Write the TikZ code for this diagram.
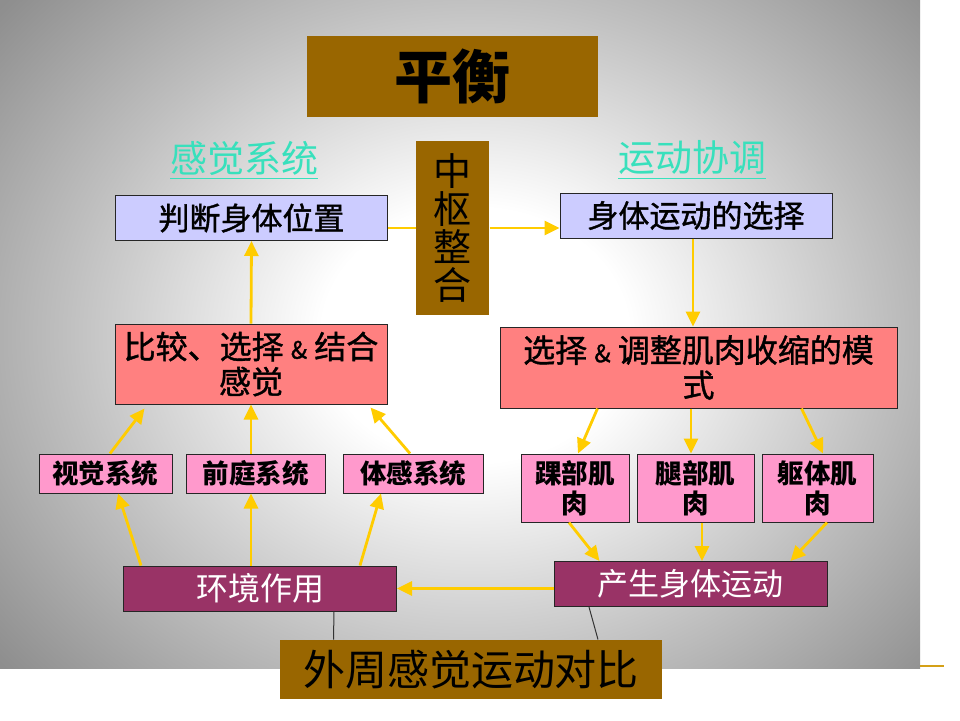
\documentclass[tikz,border=0pt]{standalone}
\usepackage{fontspec}
\setmainfont{Noto Sans CJK SC}
\newfontfamily\heavy[FakeBold=1.2]{Noto Sans CJK SC}
\usetikzlibrary{positioning,calc,arrows.meta,shapes}
\definecolor{ochre}{HTML}{996600}
\definecolor{lilac}{HTML}{CCCCFF}
\definecolor{salmon}{HTML}{FF8080}
\definecolor{rosa}{HTML}{FF99CC}
\definecolor{plum}{HTML}{993366}
\definecolor{amber}{HTML}{FFCC00}
\definecolor{aqua}{HTML}{38E0BC}
\definecolor{goldline}{HTML}{D4A017}
\pgfdeclareradialshading{glow}{\pgfpoint{0bp}{0bp}}{color(0bp)=(white); color(6bp)=(white); color(16bp)=(black!25); color(24bp)=(black!44); color(32bp)=(black!54); color(40bp)=(black!59); color(50bp)=(black!59)}

\begin{document}
\begin{tikzpicture}[x=0.5pt,y=-0.5pt,
    box/.style={rectangle,inner sep=0pt,align=center,draw=black!85,line width=0.5pt},
    gold box/.style={box,draw=none,fill=ochre},
    lilac box/.style={box,fill=lilac,minimum width=136pt,minimum height=22.5pt,font=\heavy\fontsize{15.5}{17}\selectfont},
    red box/.style={box,fill=salmon,minimum height=40pt,font=\heavy\fontsize{16}{17.5}\selectfont},
    pink box/.style={box,fill=rosa,font=\bfseries\fontsize{13.25}{15}\selectfont},
    plum box/.style={box,fill=plum,text=white,minimum width=136.5pt,minimum height=22.5pt,font=\fontsize{16}{17}\selectfont},
    title/.style={text=aqua,font=\fontsize{18.5}{19}\selectfont},
    flow/.style={color=amber,line width=1.4pt,-{Triangle[length=7.5pt,width=7pt]}},
    link/.style={color=black!80,line width=0.5pt}
  ]
  % background
  \fill[white] (0,0) rectangle (960,720);
  \begin{scope}
    \clip (0,0) rectangle (920,668);
    \fill[black!59] (0,0) rectangle (920,668);
    \shade[shading=glow] (475,335) ellipse (640 and 530);
  \end{scope}
  \draw[goldline,line width=1pt] (920,666) -- (944,666);

  \node[gold box,minimum width=145.5pt,minimum height=40.5pt,font=\bfseries\fontsize{29}{30}\selectfont] (bal) at (452.5,76.5) {平衡};
  \node[gold box,minimum width=36.5pt,minimum height=87pt,font=\fontsize{19}{19}\selectfont] (hub) at (452.5,228) {中\\枢\\整\\合};
  \node[title] (sense) at (244,160) {\underline{感觉系统}};
  \node[title] (motor) at (692,160) {\underline{运动协调}};
  \node[lilac box] (pos) at (251.5,218) {判断身体位置};
  \node[lilac box] (sel) at (696,215.5) {身体运动的选择};
  \node[red box,minimum width=136pt] (cmp) at (251,364) {比较、选择 {\fontsize{12}{12}\selectfont\&} 结合\\感觉};
  \node[red box,minimum width=198.5pt,minimum height=40.5pt] (mod) at (698.5,367.5) {选择 {\fontsize{12}{12}\selectfont\&} 调整肌肉收缩的模\\式};
  \node[pink box,minimum width=66.5pt,minimum height=19.5pt] (vis) at (105.5,473.5) {视觉系统};
  \node[pink box,minimum width=69.5pt,minimum height=19.5pt] (ves) at (255.5,473.5) {前庭系统};
  \node[pink box,minimum width=70pt,minimum height=19.5pt] (som) at (413,473.5) {体感系统};
  \node[pink box,minimum width=54pt,minimum height=34pt] (ank) at (575,488) {踝部肌\\肉};
  \node[pink box,minimum width=58.5pt,minimum height=34pt] (leg) at (695.5,488) {腿部肌\\肉};
  \node[pink box,minimum width=55.5pt,minimum height=34pt] (trk) at (817.5,488) {躯体肌\\肉};
  \node[plum box] (env) at (260,588.5) {环境作用};
  \node[plum box,font=\fontsize{15.5}{17}\selectfont] (mov) at (690.5,584) {产生身体运动};
  \node[gold box,minimum width=191pt,minimum height=29.5pt,font=\fontsize{21}{22}\selectfont] (cmpr) at (471,669.5) {外周感觉运动对比};

  \draw[flow,-] ($(pos.east)+(0,10)$) -- (hub.west);
  \path[flow]
    (hub.east) edge ($(sel.west)+(0,12.5)$)
    ($(sel.south)+(-3,0)$) edge ($(sel.south |- mod.north)+(-3,0)$)
    (cmp.north) edge (pos.south)
    ($(vis.north)+(4.5,0)$) edge ($(cmp.south west)+(30,4)$)
    (cmp.south |- ves.north) edge (cmp.south)
    ($(som.north)+(-3,0)$) edge ($(cmp.south east)+(-17,3)$)
    ($(env.north west)+(18,0)$) edge ($(vis.south)+(12.5,0)$)
    (cmp.south |- env.north) edge (cmp.south |- ves.south)
    ($(env.north east)+(-37,0)$) edge ($(som.south)+(-32,0)$)
    (mov.west |- env.east) edge (env.east)
    ($(mod.south west)+(98,0)$) edge ($(ank.north)+(3,0)$)
    ($(leg.north |- mod.south)+(-4.5,0)$) edge ($(leg.north)+(-4.5,0)$)
    ($(mod.south east)+(-96,0)$) edge ($(trk.north)+(5.5,0)$)
    ($(ank.south)+(-6,0)$) edge ($(mov.north west)+(46,0)$)
    ($(leg.south)+(6.5,0)$) edge ($(leg.south |- mov.north)+(6.5,0)$)
    ($(trk.south)+(9.5,0)$) edge ($(mov.north east)+(-37,0)$);
  \path[link]
    ($(env.south)+(74,0)$) edge ($(cmpr.north west)+(54,0)$)
    ($(mov.south)+(-101.5,0)$) edge ($(cmpr.north)+(127,0)$);
\end{tikzpicture}
\end{document}
